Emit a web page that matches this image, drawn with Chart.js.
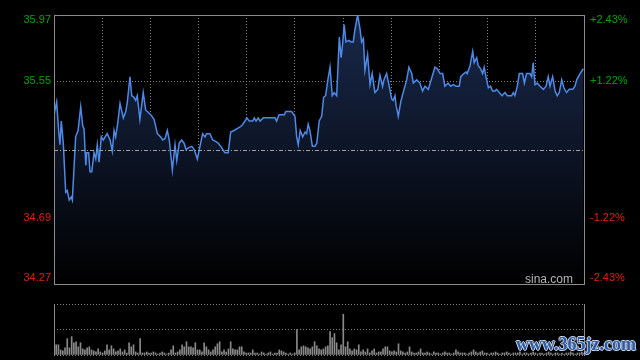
<!DOCTYPE html>
<html lang="zh-CN">
<head>
<meta charset="UTF-8">
<title>分时走势</title>
<script src="https://cdn.jsdelivr.net/npm/chart.js"></script>
<style>
  body {
    margin: 0;
    width: 640px;
    height: 360px;
    overflow: hidden;
    background: #000;
    position: relative;
    font-family: "Liberation Sans", Arial, sans-serif;
  }
  #priceChart { position: absolute; left: 0; top: 0; }
  #volChart { position: absolute; left: 0; top: 290px; }
  #mark {
    position: absolute;
    left: 516px;
    top: 335px;
    font: bold 18px/18px "Liberation Serif", serif;
    color: #2c5ba6;
    text-shadow: 1px 0 0 #cdd6e6, -1px 0 0 #cdd6e6, 0 1px 0 #cdd6e6, 0 -1px 0 #cdd6e6;
    white-space: nowrap;
  }
</style>
</head>
<body>
<canvas id="priceChart" width="640" height="290"></canvas>
<canvas id="volChart" width="640" height="70"></canvas>
<div id="mark">www.365jz.com</div>

<script>
// minute of the session (0..240) and last price
const minutes = [
  0.0,1.2,2.1,2.7,3.3,4.2,5.3,6.0,6.9,7.8,
  8.3,9.8,10.9,12.1,13.0,13.6,14.4,14.8,15.7,16.3,
  17.1,18.1,18.9,19.6,20.4,21.4,22.3,24.1,25.4,26.4,
  27.2,27.9,28.7,29.9,31.4,32.5,33.2,34.4,35.2,36.2,
  37.0,37.7,38.9,40.4,41.5,43.8,45.3,46.8,48.3,49.2,
  50.3,51.3,52.2,53.6,54.8,55.6,56.7,57.8,58.9,59.8,
  60.8,62.4,63.5,64.9,65.8,67.3,68.4,69.1,70.6,71.9,
  73.4,74.4,75.5,76.4,77.4,78.9,80.0,81.5,82.7,83.9,
  85.0,86.5,87.3,88.4,90.0,90.7,91.5,92.5,93.3,94.8,
  100.1,100.8,101.9,104.3,105.0,107.6,109.1,109.9,110.6,111.5,
  112.6,113.7,114.4,115.1,115.9,117.0,118.2,119.0,120.1,121.2,
  122.1,123.0,123.9,125.0,126.0,126.9,128.0,129.2,130.0,130.7,
  131.4,132.2,133.6,134.5,135.5,136.3,137.5,138.6,139.3,140.1,
  140.8,142.0,143.1,144.1,145.3,146.6,147.6,148.8,149.4,150.6,
  151.8,152.9,153.6,154.4,154.9,155.9,157.0,158.5,159.7,160.7,
  162.0,162.7,164.2,165.7,166.9,168.0,169.5,171.0,172.5,173.6,
  174.8,176.0,177.0,178.5,179.6,180.8,182.0,183.5,184.2,185.6,
  186.6,187.1,188.4,189.6,190.3,191.4,192.1,193.2,194.1,194.8,
  195.6,196.7,197.7,198.6,199.7,200.4,201.6,202.9,204.2,205.3,
  207.2,208.0,208.7,209.8,210.7,212.2,213.0,214.0,215.5,216.3,
  217.0,217.8,218.8,220.1,221.6,222.8,223.8,224.6,225.8,226.9,
  227.9,228.8,229.9,230.9,232.1,233.3,234.9,235.9,236.7,238.2,
  239.7
];
const prices = [
  35.34,35.42,35.24,35.15,35.30,35.16,34.85,34.86,34.80,34.82,
  34.80,35.20,35.24,35.39,35.27,35.25,35.02,35.10,35.10,34.98,
  34.98,35.10,35.06,35.15,35.04,35.20,35.18,35.22,35.18,35.11,
  35.24,35.20,35.27,35.41,35.32,35.36,35.42,35.58,35.46,35.45,
  35.43,35.46,35.31,35.48,35.37,35.34,35.31,35.22,35.20,35.18,
  35.19,35.24,35.18,34.99,35.15,35.05,35.16,35.18,35.16,35.12,
  35.13,35.14,35.12,35.06,35.12,35.22,35.20,35.22,35.22,35.18,
  35.17,35.16,35.14,35.12,35.10,35.10,35.23,35.24,35.25,35.26,
  35.27,35.30,35.32,35.30,35.30,35.32,35.30,35.32,35.30,35.32,
  35.32,35.30,35.34,35.34,35.36,35.36,35.33,35.20,35.15,35.24,
  35.20,35.23,35.22,35.28,35.24,35.14,35.14,35.16,35.30,35.33,
  35.45,35.46,35.55,35.64,35.46,35.48,35.46,35.83,35.70,35.79,
  35.91,35.80,35.81,35.80,35.80,35.88,35.97,35.88,35.80,35.82,
  35.62,35.72,35.53,35.60,35.48,35.50,35.59,35.52,35.56,35.60,
  35.52,35.44,35.43,35.46,35.40,35.33,35.42,35.50,35.56,35.64,
  35.60,35.54,35.56,35.54,35.49,35.52,35.50,35.57,35.64,35.63,
  35.60,35.60,35.52,35.54,35.52,35.53,35.52,35.52,35.58,35.60,
  35.61,35.60,35.65,35.74,35.67,35.70,35.65,35.63,35.60,35.64,
  35.58,35.51,35.52,35.49,35.49,35.50,35.48,35.46,35.48,35.46,
  35.46,35.48,35.46,35.52,35.60,35.60,35.54,35.60,35.60,35.58,
  35.67,35.53,35.54,35.52,35.50,35.52,35.58,35.52,35.58,35.49,
  35.46,35.48,35.56,35.51,35.48,35.50,35.50,35.52,35.56,35.60,
  35.63
];
// per-minute volume (relative units)
const volumes = [
  13,10,10,5,4,7,16,7,18,12,
  13,8,12,6,5,7,8,5,4,3,
  6,3,2,4,10,5,9,6,3,4,
  6,3,5,2,12,8,10,3,2,16,
  2,2,3,2,2,3,2,1,2,3,
  2,1,2,5,9,2,3,5,10,8,
  13,8,8,7,12,5,5,3,12,8,
  5,3,5,8,11,13,3,5,3,6,
  13,6,5,5,8,8,3,2,2,2,
  5,2,2,1,3,2,1,2,3,1,
  2,2,5,4,3,2,1,2,1,2,
  25,5,8,9,8,7,6,8,13,9,
  6,5,6,8,9,23,17,21,12,5,
  10,40,8,13,6,4,6,5,10,3,
  5,3,6,2,4,6,2,3,3,6,
  8,8,4,3,4,3,11,4,3,2,
  3,8,3,2,2,3,6,2,2,3,
  2,1,3,2,2,1,2,3,2,2,
  1,2,5,3,2,2,2,1,2,3,
  5,3,2,3,4,2,2,1,2,2,
  3,2,1,2,2,3,2,1,2,2,
  2,3,1,2,2,1,2,3,2,1,
  2,2,1,2,3,2,1,2,2,1,
  2,1,2,2,3,2,1,2,2,3,2
];
const prevClose = 35.12;
const priceLabels = [35.97, 35.55, 34.69, 34.27];
const pctLabels = ['+2.43%', '+1.22%', '-1.22%', '-2.43%'];
const priceMin = 34.27, priceMax = 35.97;

const GREEN = '#00a300';
const RED = '#e3200c';
const GRID = '#858585';
const FRAME = '#8c8c8c';

const priceDecor = {
  id: 'priceDecor',
  afterDatasetsDraw(chart) {
    const { ctx, chartArea: a, scales: { y } } = chart;
    const ry = Math.round(y.getPixelForValue(prevClose)) + 0.5;
    ctx.save();
    ctx.strokeStyle = '#a0a0a0';
    ctx.lineWidth = 1;
    ctx.setLineDash([4, 2, 1, 2]);
    ctx.beginPath();
    ctx.moveTo(a.left, ry);
    ctx.lineTo(a.right, ry);
    ctx.stroke();
    ctx.restore();
  },
  afterDraw(chart) {
    const { ctx, chartArea: a, scales: { y } } = chart;
    ctx.save();
    ctx.strokeStyle = FRAME;
    ctx.lineWidth = 1;
    ctx.strokeRect(a.left + 0.5, a.top + 0.5, a.right - a.left, a.bottom - a.top);

    ctx.font = '11px "Liberation Sans", Arial, sans-serif';
    ctx.textBaseline = 'middle';
    priceLabels.forEach((v, i) => {
      let py = y.getPixelForValue(v);
      py = Math.min(Math.max(py, a.top + 5), a.bottom - 6);
      ctx.fillStyle = v > prevClose ? GREEN : RED;
      ctx.textAlign = 'right';
      ctx.fillText(v.toFixed(2), a.left - 3, py);
      ctx.textAlign = 'left';
      ctx.fillText(pctLabels[i], a.right + 6, py);
    });

    ctx.fillStyle = '#b4b4b4';
    ctx.font = '12px "Liberation Sans", Arial, sans-serif';
    ctx.textAlign = 'right';
    ctx.textBaseline = 'alphabetic';
    ctx.fillText('sina.com', a.right - 11, a.bottom - 1);
    ctx.restore();
  }
};

new Chart(document.getElementById('priceChart'), {
  type: 'line',
  data: {
    datasets: [{
      data: minutes.map((m, i) => ({ x: m, y: prices[i] })),
      borderColor: '#4d8ae8',
      borderWidth: 1.5,
      pointRadius: 0,
      tension: 0,
      fill: 'start',
      backgroundColor: (c) => {
        const area = c.chart.chartArea;
        if (!area) return 'transparent';
        const g = c.chart.ctx.createLinearGradient(0, area.top, 0, area.bottom);
        g.addColorStop(0, '#19294c');
        g.addColorStop(1, '#000000');
        return g;
      }
    }]
  },
  options: {
    responsive: false,
    animation: false,
    events: [],
    layout: { padding: { left: 54, right: 56, top: 15, bottom: 6 } },
    plugins: { legend: { display: false }, tooltip: { enabled: false } },
    scales: {
      x: {
        type: 'linear',
        min: 0,
        max: 240,
        z: 1,
        afterFit: (s) => { s.height = 0; },
        afterBuildTicks: (s) => {
          s.ticks = Array.from({ length: 10 }, (_, k) => ({ value: (k + 1) * 240 / 11 }));
        },
        ticks: { display: false },
        grid: { color: GRID, drawTicks: false },
        border: { display: false, dash: [1, 2] }
      },
      y: {
        min: priceMin,
        max: priceMax,
        z: 1,
        afterFit: (s) => { s.width = 0; },
        afterBuildTicks: (s) => {
          s.ticks = [{ value: priceLabels[1] }, { value: priceLabels[2] }];
        },
        ticks: { display: false },
        grid: { color: GRID, drawTicks: false },
        border: { display: false, dash: [1, 2] }
      }
    }
  },
  plugins: [priceDecor]
});

const volDecor = {
  id: 'volDecor',
  afterDraw(chart) {
    const { ctx, chartArea: a } = chart;
    ctx.save();
    ctx.strokeStyle = FRAME;
    ctx.lineWidth = 1;
    ctx.beginPath();
    ctx.moveTo(a.left + 0.5, a.top);
    ctx.lineTo(a.left + 0.5, a.bottom + 1);
    ctx.moveTo(a.right + 0.5, a.top);
    ctx.lineTo(a.right + 0.5, a.bottom + 1);
    ctx.stroke();
    ctx.restore();
  }
};

new Chart(document.getElementById('volChart'), {
  type: 'bar',
  data: {
    datasets: [{
      data: volumes.map((v, i) => ({ x: i, y: v })),
      backgroundColor: '#8a8a8a',
      barThickness: 1,
      borderWidth: 0
    }]
  },
  options: {
    responsive: false,
    animation: false,
    events: [],
    layout: { padding: { left: 54, right: 56, top: 14, bottom: 5 } },
    plugins: { legend: { display: false }, tooltip: { enabled: false } },
    scales: {
      x: {
        type: 'linear',
        min: 0,
        max: 240,
        display: false,
        offset: false
      },
      y: {
        min: 0,
        max: 50,
        afterFit: (s) => { s.width = 0; },
        afterBuildTicks: (s) => {
          s.ticks = [{ value: 0 }, { value: 25 }, { value: 50 }];
        },
        ticks: { display: false },
        grid: { color: GRID, drawTicks: false },
        border: { display: false, dash: [1, 2] }
      }
    }
  },
  plugins: [volDecor]
});
</script>
</body>
</html>
